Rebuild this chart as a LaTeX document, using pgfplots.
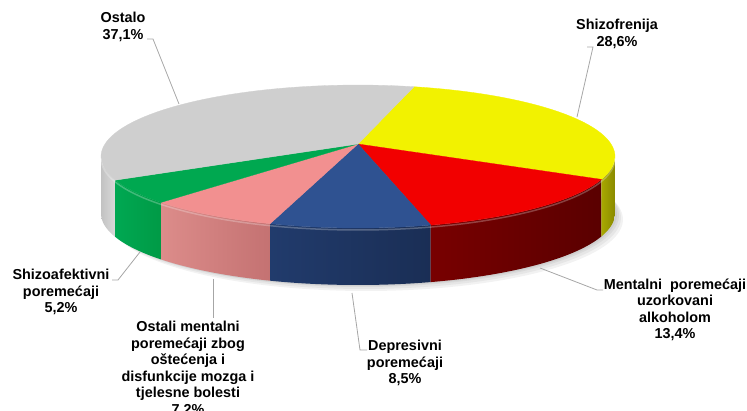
\documentclass[border=0pt]{standalone}
\usepackage{fontspec}
\setmainfont{Liberation Sans}
\usepackage{pgfplots}
\usepackage{pgfplotstable}
\pgfplotsset{compat=1.18}
\definecolor{cgray}{HTML}{CFCFCF}
\definecolor{cyel}{HTML}{F2F200}
\definecolor{cred}{HTML}{F20000}
\definecolor{cblue}{HTML}{2F5291}
\definecolor{cpink}{HTML}{F29090}
\definecolor{cgreen}{HTML}{00A850}
\definecolor{leader}{HTML}{A6A6A6}
\definecolor{sgA}{HTML}{C2C2C2}\definecolor{sgB}{HTML}{DADADA}
\definecolor{sgrA}{HTML}{00A852}\definecolor{sgrB}{HTML}{009A46}
\definecolor{spA}{HTML}{DC8C8A}\definecolor{spB}{HTML}{C47272}
\definecolor{sbA}{HTML}{213B6C}\definecolor{sbB}{HTML}{1A2E55}
\definecolor{srA}{HTML}{780000}\definecolor{srB}{HTML}{5A0000}
\definecolor{syA}{HTML}{A8A800}\definecolor{syB}{HTML}{8A8A00}
\pgfplotstableread{
pct
28.6
13.4
8.5
7.2
5.2
37.1
}\piedata
\newcommand\lab{\fontsize{14.4}{16.5}\selectfont\bfseries}
\begin{document}%
\pgfplotstablegetelem{0}{pct}\of\piedata\let\pA\pgfplotsretval%
\pgfplotstablegetelem{1}{pct}\of\piedata\let\pB\pgfplotsretval%
\pgfplotstablegetelem{2}{pct}\of\piedata\let\pC\pgfplotsretval%
\pgfplotstablegetelem{3}{pct}\of\piedata\let\pD\pgfplotsretval%
\pgfplotstablegetelem{4}{pct}\of\piedata\let\pE\pgfplotsretval%
\pgfplotstablegetelem{5}{pct}\of\piedata\let\pF\pgfplotsretval%
\pgfmathsetmacro\bA{75}%
\pgfmathsetmacro\bB{\bA-3.6*\pA}%
\pgfmathsetmacro\bC{\bB-3.6*\pB}%
\pgfmathsetmacro\bD{\bC-3.6*\pC}%
\pgfmathsetmacro\bE{\bD-3.6*\pD}%
\pgfmathsetmacro\bF{\bE-3.6*\pE}%
\pgfmathsetmacro\bG{\bF-3.6*\pF}%
\pgfmathsetmacro\sL{-180+asin(0.175)}%
\pgfmathsetmacro\sR{-asin(0.175)}%
\newcommand\topslice[3]{%
  \addplot[fill=#1, draw=#1, line width=0.3pt, domain=#3:#2, samples=80, variable=\t]
    ({px(\t)},{py(\t)}) -- (axis cs:358,144) -- cycle;}%
\newcommand\sideslice[4]{%
  \addplot[left color=#1, right color=#2, draw=none, domain=0:2, samples=101, variable=\t]
    ({px(th(\t,#3,#4))},{py(th(\t,#3,#4))+dz(\t)}) -- cycle;}%
\newcommand\shadow[2]{%
  \addplot[fill=black, draw=none, opacity=0.05, domain=-185:5, samples=80, variable=\t]
    ({px(\t)+#1},{py(\t)+57+#2}) -- cycle;}%
\begin{tikzpicture}[declare function={
    px(\t)=358+253*cos(\t)/(1+0.175*sin(\t));
    py(\t)=144-69.3*sin(\t)/(1+0.175*sin(\t));
    th(\u,\p,\q)=(\u<1.01) ? (\p+(\q-\p)*min(\u,1)) : (\q-(\q-\p)*(\u-1.02)/0.98);
    dz(\u)=(\u<1.01) ? 0 : 57;}]
\begin{axis}[name=ax, width=747pt, height=411pt, scale only axis,
  xmin=0, xmax=747, ymin=0, ymax=411, y dir=reverse, hide axis, clip=false]
% soft shadow
\shadow{2}{1}
\shadow{4}{2}
\shadow{6}{4}
\shadow{8}{6}
% sides (front, visible part)
\sideslice{sgA}{sgB}{\sL}{\bF}
\sideslice{sgrA}{sgrB}{\bF}{\bE}
\sideslice{spA}{spB}{\bE}{\bD}
\sideslice{sbA}{sbB}{\bD}{\bC}
\sideslice{srA}{srB}{\bC}{\bB}
\sideslice{syA}{syB}{\bB}{\sR}
% top faces
\topslice{cyel}{\bA}{\bB}
\topslice{cred}{\bB}{\bC}
\topslice{cblue}{\bC}{\bD}
\topslice{cpink}{\bD}{\bE}
\topslice{cgreen}{\bE}{\bF}
\topslice{cgray}{\bF}{\bG}
% rim highlight
\addplot[white, opacity=0.25, line width=1.5pt, domain=\sL:\sR, samples=120, variable=\t]
  ({px(\t)},{py(\t)+2});
% leader lines
\addplot[leader, line width=0.8pt] coordinates {(147,39) (153,39) (179,104)};
\addplot[leader, line width=0.8pt] coordinates {(587,47) (593,47) (577,117)};
\addplot[leader, line width=0.8pt] coordinates {(540,268) (597,290) (603,290)};
\addplot[leader, line width=0.8pt] coordinates {(352,293) (360,350) (367,350)};
\addplot[leader, line width=0.8pt] coordinates {(140,252) (118,280) (112,280)};
\addplot[leader, line width=0.8pt] coordinates {(213,279) (213,318)};
% labels
\node[font=\lab, align=center] at (axis cs:123,27) {Ostalo\\37,1\%};
\node[font=\lab, align=center] at (axis cs:617,34) {Shizofrenija\\28,6\%};
\node[font=\lab, align=center] at (axis cs:675,310) {Mentalni\ \ poremećaji\\uzorkovani\\alkoholom\\13,4\%};
\node[font=\lab, align=center] at (axis cs:405,363) {Depresivni\\poremećaji\\8,5\%};
\node[font=\lab, align=center] at (axis cs:61,292) {Shizoafektivni\\poremećaji\\5,2\%};
\node[font=\lab, align=center] at (axis cs:188,369) {Ostali mentalni\\poremećaji zbog\\oštećenja i\\disfunkcije mozga i\\tjelesne bolesti\\7,2\%};
\end{axis}
\pgfresetboundingbox
\path[use as bounding box] (ax.south west) rectangle (ax.north east);
\end{tikzpicture}%
\end{document}
